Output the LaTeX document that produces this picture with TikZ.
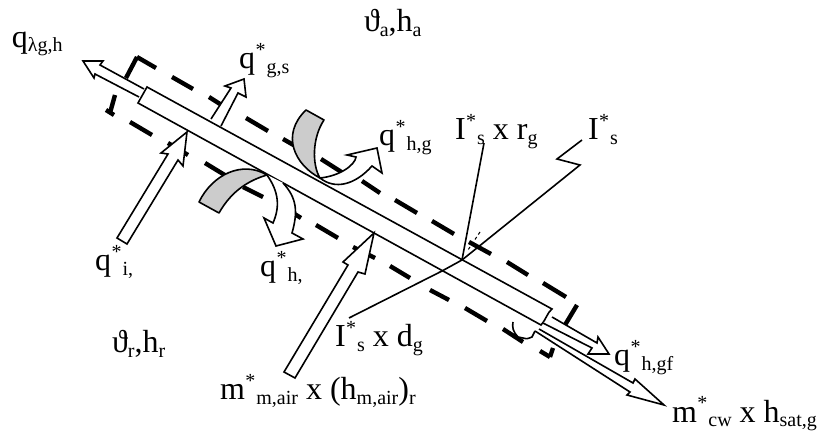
\documentclass[tikz,border=0pt]{standalone}
\usepackage{fontspec}
\setmainfont{Liberation Serif}
\newcommand{\bigf}{\fontsize{32}{32}\selectfont}
\newcommand{\subf}{\fontsize{20}{20}\selectfont}
\newcommand{\sbs}[1]{\raisebox{-4.5pt}{\subf #1}}
\newcommand{\strd}{\kern0.5pt\raisebox{12.5pt}{\subf *}\kern1pt}
\tikzset{
  x=1pt,y=-1pt,
  txt/.style={anchor=base west,inner sep=0pt,outer sep=0pt,font=\bigf},
  thinl/.style={draw=black,line width=1.6pt,line join=miter},
  fatarrow/.style={draw=black,fill=white,line width=1.6pt,line join=miter},
  greyband/.style={draw=black,fill=black!20,line width=1.6pt,line join=round},
  thickdash/.style={draw=black,line width=4.4pt}
}
\begin{document}
\begin{tikzpicture}
\useasboundingbox (0,0) rectangle (822,435);
% dashed envelope
\foreach \a/\b/\c/\d in {126/78/137/57,137/57/156/68,172/77/193/89,209/97/220/104,246/118/268/131,283/139/297/147,321/159/343/173,362/181/380/193,395/200/417/213,432/221/454/234,469/242/491/254,507/262/528/275,543/283/566/297,577/305/565/325,553/348/550/357,550/357/540/351,503/329/523/342,465/308/487/321,430/290/449/300,390/266/410/278,353/247/375/258,316/225/338/238,293/213/301/218,243/187/263/197,205/163/228/177,168/143/188/155,130/122/152/135,114/115/106/110,110/113/115/95}
  \draw[thickdash] (\a,\b) -- (\c,\d);
% plate
\coordinate (ptl) at (147,87);
\coordinate (ptr) at (552,309);
\coordinate (pbr) at (541,325);
\coordinate (pbl) at (138,103);
\draw[fatarrow] (ptl) -- (ptr) .. controls (547,313) and (547,318) .. (pbr) -- (pbl) -- cycle;
% arrows
\draw[fatarrow] (144,89) -- (100,65) -- (103,61) -- (83,61) -- (94,78) -- (95,74) -- (139,97);
\draw[fatarrow] (211,119) -- (231,88) -- (225,86) -- (244,79) -- (246,97) -- (238,93) -- (221,126);
\draw[fatarrow] (117,238) -- (168,154) -- (161,153) -- (187,132) -- (183,166) -- (178,160) -- (127,244) -- cycle;
\draw[fatarrow] (284,372) -- (348,265) -- (343,262) -- (374,233) -- (365,274) -- (358,272) -- (295,378) -- cycle;
\draw[fatarrow] (552,317) -- (597,343) -- (598,337) -- (609,354) -- (588,354) -- (592,348) -- (543,323);
\draw[fatarrow] (539,329) -- (633,383) -- (635,379) -- (664,405) -- (627,395) -- (630,392) -- (535,331);
\draw[thinl] (535,331) .. controls (533,334) .. (532,337) .. controls (527,339) .. (523,338) -- (518,337) .. controls (513,332) and (512,327) .. (513,322);
% curved arrows
\draw[fatarrow] (320,178) .. controls (340,176) and (355,165) .. (356,157) -- (347,155) -- (377,148) -- (382,173) -- (372,166) .. controls (355,185) and (335,190) .. (320,178) -- cycle;
\draw[greyband] (306,110) -- (324,120) .. controls (312,138) and (312,165) .. (320,178) .. controls (295,165) and (280,135) .. (306,110) -- cycle;
\draw[fatarrow] (267,175) .. controls (279,192) and (280,207) .. (273,223) -- (264,218) -- (276,246) -- (303,239) -- (292,233) .. controls (298,212) and (297,198) .. (283,183);
\draw[greyband] (199,202) -- (219,213) .. controls (232,190) and (250,180) .. (267,175) .. controls (242,160) and (212,175) .. (199,202) -- cycle;
% radiation lines
\coordinate (cen) at (462,260);
\coordinate (rg) at (484,143);
\coordinate (is1) at (580,165);
\coordinate (is2) at (557,159);
\coordinate (is3) at (582,140);
\coordinate (dg1) at (349,318);
\coordinate (dg2) at (442,271);
\draw[thinl] (rg) -- (cen);
\draw[thinl] (is3) -- (is2) -- (is1) -- (cen);
\draw[thinl] (dg1) -- (dg2) -- (cen);
\draw[draw=black,line width=1pt,dashed] (480,232) -- (468,250);
% text
\node[txt] (t1) at (12,47.5) {q\sbs{λg,h}};
\node[txt] (t2) at (239,69) {q\strd\sbs{g,s}};
\node[txt] (t3) at (364,32) {ϑ\sbs{a},h\sbs{a}};
\node[txt] (t4) at (379,146) {q\strd\sbs{h,g}};
\node[txt] (t5) at (455,140) {I\strd\sbs{s} x r\sbs{g}};
\node[txt] (t6) at (588,140) {I\strd\sbs{s}};
\node[txt] (t7) at (95,271) {q\strd\sbs{i,}};
\node[txt] (t8) at (260,277) {q\strd\sbs{h,}};
\node[txt] (t9) at (112,353) {ϑ\sbs{r},h\sbs{r}};
\node[txt] (t10) at (335,347) {I\strd\sbs{s} x d\sbs{g}};
\node[txt] (t11) at (220,400) {m\strd\sbs{m,air} x (h\sbs{m,air})\sbs{r}};
\node[txt] (t12) at (614,366) {q\strd\sbs{h,gf}};
\node[txt] (t13) at (672,422) {m\strd\sbs{cw} x h\sbs{sat,g}};
\end{tikzpicture}
\end{document}
